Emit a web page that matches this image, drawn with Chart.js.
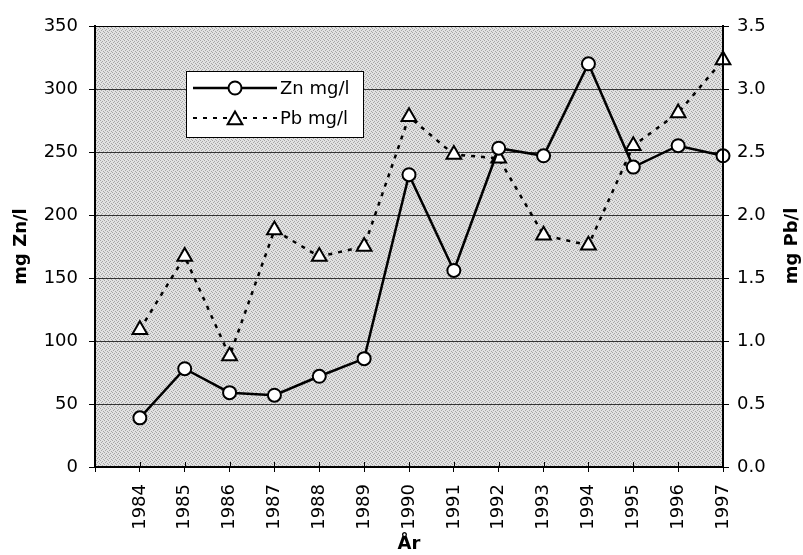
<!DOCTYPE html>
<html lang="no">
<head>
  <meta charset="UTF-8" />
  <title>Zn og Pb</title>
  <script src="https://cdn.jsdelivr.net/npm/chart.js"></script>
  <style>
    body {
      margin: 0;
      background: #fff;
    }
    canvas {
      display: block;
    }
  </style>
</head>
<body>
  <canvas id="chart" width="803" height="555"></canvas>
  <script>
    // Data
    const years = [1984, 1985, 1986, 1987, 1988, 1989, 1990, 1991, 1992, 1993, 1994, 1995, 1996, 1997];
    const znValues = [39, 78, 59, 57, 72, 86, 232, 156, 253, 247, 320, 238, 255, 247];
    const pbValues = [1.09, 1.67, 0.88, 1.88, 1.67, 1.75, 2.78, 2.48, 2.45, 1.84, 1.76, 2.55, 2.81, 3.23];
    const znTicks = [0, 50, 100, 150, 200, 250, 300, 350];
    const pbTicks = [0, 0.5, 1.0, 1.5, 2.0, 2.5, 3.0, 3.5];
    const seriesLabels = ['Zn mg/l', 'Pb mg/l'];
    const axisTitles = { x: 'År', zn: 'mg Zn/l', pb: 'mg Pb/l' };

    const FONT = "'DejaVu Sans', sans-serif";
    const tickFont = { family: FONT, size: 18 };
    const titleFont = { family: FONT, size: 18, weight: 'bold' };

    // grey stippled fill for the plot area
    function makePattern(ctx) {
      const pc = document.createElement('canvas');
      pc.width = 4;
      pc.height = 4;
      const p = pc.getContext('2d');
      p.fillStyle = '#e2e2e2';
      p.fillRect(0, 0, 4, 4);
      p.fillStyle = '#a6a6a6';
      [[0, 0], [2, 1], [1, 2], [3, 3]].forEach(([a, b]) => p.fillRect(a, b, 1, 1));
      return ctx.createPattern(pc, 'repeat');
    }

    function drawCircle(ctx, x, y) {
      ctx.beginPath();
      ctx.arc(x, y, 6.5, 0, Math.PI * 2);
      ctx.fillStyle = '#fff';
      ctx.fill();
      ctx.lineWidth = 2;
      ctx.strokeStyle = '#000';
      ctx.stroke();
    }

    function drawTriangle(ctx, x, y) {
      Chart.helpers.drawPoint(ctx, { pointStyle: 'triangle', radius: 8.5, borderWidth: 2 }, x, y);
    }

    const plotPlugin = {
      id: 'plotDecor',
      beforeDraw(chart) {
        const { ctx, chartArea: a } = chart;
        ctx.save();
        ctx.fillStyle = makePattern(ctx);
        ctx.fillRect(a.left, a.top, a.right - a.left, a.bottom - a.top);
        ctx.restore();
      },
      afterDatasetsDraw(chart) {
        const { ctx, chartArea: a, scales } = chart;
        ctx.save();
        // frame on top of markers
        ctx.strokeStyle = '#000';
        ctx.lineWidth = 1;
        ctx.beginPath();
        ctx.moveTo(a.left, a.top + 0.5);
        ctx.lineTo(a.right, a.top + 0.5);
        ctx.stroke();
        ctx.lineWidth = 2;
        ctx.beginPath();
        ctx.moveTo(a.right, a.top);
        ctx.lineTo(a.right, a.bottom);
        ctx.moveTo(a.left, a.top);
        ctx.lineTo(a.left, a.bottom);
        ctx.stroke();
        // x tick marks also reach into the plot
        ctx.lineWidth = 1;
        ctx.beginPath();
        years.forEach(yr => {
          const px = Math.round(scales.x.getPixelForValue(yr)) + 0.5;
          ctx.moveTo(px, a.bottom);
          ctx.lineTo(px, a.bottom - 5);
        });
        ctx.stroke();
        ctx.restore();
      },
      afterDraw(chart) {
        const ctx = chart.ctx;
        ctx.save();
        // right axis title, reading bottom to top
        ctx.translate(792, 246);
        ctx.rotate(-Math.PI / 2);
        ctx.font = "bold 18px " + FONT;
        ctx.fillStyle = '#000';
        ctx.textAlign = 'center';
        ctx.textBaseline = 'middle';
        ctx.fillText(axisTitles.pb, 0, 0);
        ctx.restore();

        // legend box
        ctx.save();
        ctx.fillStyle = '#fff';
        ctx.fillRect(186, 71, 177, 66);
        ctx.strokeStyle = '#000';
        ctx.lineWidth = 1;
        ctx.strokeRect(186.5, 71.5, 177, 66);

        ctx.lineWidth = 2.5;
        ctx.beginPath();
        ctx.moveTo(193, 88);
        ctx.lineTo(277, 88);
        ctx.stroke();
        drawCircle(ctx, 235, 88);

        ctx.setLineDash([4, 6]);
        ctx.beginPath();
        ctx.moveTo(193, 118);
        ctx.lineTo(277, 118);
        ctx.stroke();
        ctx.setLineDash([]);
        ctx.fillStyle = '#fff';
        ctx.strokeStyle = '#000';
        drawTriangle(ctx, 235, 120);

        ctx.fillStyle = '#000';
        ctx.font = "18px " + FONT;
        ctx.textAlign = 'left';
        ctx.textBaseline = 'middle';
        ctx.fillText(seriesLabels[0], 280, 89);
        ctx.fillText(seriesLabels[1], 280, 119);
        ctx.restore();
      }
    };

    const ctx = document.getElementById('chart').getContext('2d');
    new Chart(ctx, {
      type: 'line',
      data: {
        datasets: [
          {
            label: seriesLabels[0],
            data: years.map((yr, i) => ({ x: yr, y: znValues[i] })),
            yAxisID: 'y',
            borderColor: '#000',
            borderWidth: 2.5,
            pointStyle: 'circle',
            pointRadius: 6.5,
            pointBorderWidth: 2,
            pointBackgroundColor: '#fff',
            pointBorderColor: '#000',
            tension: 0,
            clip: false
          },
          {
            label: seriesLabels[1],
            data: years.map((yr, i) => ({ x: yr, y: pbValues[i] })),
            yAxisID: 'y2',
            borderColor: '#000',
            borderWidth: 2.5,
            borderDash: [4, 6],
            pointStyle: 'triangle',
            pointRadius: 8.5,
            pointBorderWidth: 2,
            pointBackgroundColor: '#fff',
            pointBorderColor: '#000',
            tension: 0,
            clip: false
          }
        ]
      },
      options: {
        responsive: false,
        animation: false,
        layout: { padding: { top: 26, left: 0, right: 0, bottom: 0 } },
        plugins: {
          legend: { display: false },
          tooltip: { enabled: false }
        },
        scales: {
          x: {
            type: 'linear',
            min: years[0] - 1,
            max: years[years.length - 1],
            afterBuildTicks: s => {
              s.ticks = [{ value: years[0] - 1 }].concat(years.map(v => ({ value: v })));
            },
            afterFit: s => { s.height = 88; },
            ticks: {
              autoSkip: false,
              minRotation: 90,
              maxRotation: 90,
              padding: 12,
              color: '#000',
              font: tickFont,
              callback: v => (years.includes(v) ? String(v) : '')
            },
            grid: { drawOnChartArea: false, drawTicks: true, tickLength: 5, color: '#000', lineWidth: 1 },
            border: { display: true, color: '#000', width: 2 },
            title: {
              display: true,
              text: axisTitles.x,
              color: '#000',
              font: { family: FONT, size: 18, weight: 'bold', lineHeight: 1 },
              padding: { top: 0, bottom: 2 }
            }
          },
          y: {
            position: 'left',
            min: znTicks[0],
            max: znTicks[znTicks.length - 1],
            afterBuildTicks: s => { s.ticks = znTicks.map(v => ({ value: v })); },
            afterFit: s => { s.width = 95; },
            ticks: { padding: 11, color: '#000', font: tickFont },
            grid: { color: '#333', lineWidth: 1, tickLength: 6, tickColor: '#000' },
            border: { display: true, color: '#000', width: 2 },
            title: {
              display: true,
              text: axisTitles.zn,
              color: '#000',
              font: titleFont,
              padding: { top: 11, bottom: 0 }
            }
          },
          y2: {
            position: 'right',
            min: pbTicks[0],
            max: pbTicks[pbTicks.length - 1],
            afterBuildTicks: s => { s.ticks = pbTicks.map(v => ({ value: v })); },
            afterFit: s => { s.width = 80; },
            ticks: { padding: 8, color: '#000', font: tickFont, callback: v => v.toFixed(1) },
            grid: { drawOnChartArea: false, tickLength: 6, color: '#000' },
            border: { display: true, color: '#000', width: 2 }
          }
        }
      },
      plugins: [plotPlugin]
    });
  </script>
</body>
</html>
